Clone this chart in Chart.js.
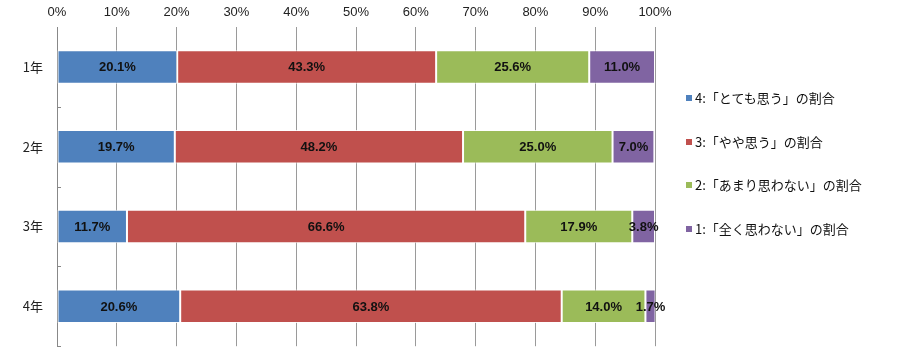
<!DOCTYPE html>
<html>
<head>
<meta charset="utf-8">
<script src="https://cdn.jsdelivr.net/npm/chart.js@4"></script>
<style>
  html, body { margin: 0; padding: 0; background: #fff; overflow: hidden; }
  #wrap { position: relative; width: 900px; height: 354px; overflow: hidden; }
  canvas { display: block; }
  #legend { position: absolute; left: 686px; top: 88px; margin: 0; padding: 0; list-style: none;
    font-family: "Noto Sans CJK JP", "Liberation Sans", sans-serif; font-size: 13px; color: #111; }
  #legend li { height: 20px; line-height: 20px; margin-bottom: 23.5px; white-space: nowrap; }
  #legend span { display: inline-block; width: 6px; height: 6px; margin-right: 3px; vertical-align: 2px; }
</style>
</head>
<body>
<div id="wrap">
  <canvas id="chart" width="900" height="368"></canvas>
  <ul id="legend"></ul>
</div>
<script>
"use strict";

// ── data ──────────────────────────────────────────────────────────────────────
const grades = ["1年", "2年", "3年", "4年"];
const seriesNames = [
  "4:「とても思う」の割合",
  "3:「やや思う」の割合",
  "2:「あまり思わない」の割合",
  "1:「全く思わない」の割合",
];
const verySo   = [20.1, 19.7, 11.7, 20.6];
const somewhat = [43.3, 48.2, 66.6, 63.8];
const notMuch  = [25.6, 25.0, 17.9, 14.0];
const notAtAll = [11.0, 7.0, 3.8, 1.7];
const colors = ["#4F81BD", "#C0504D", "#9BBB59", "#8064A2"];

// ── value labels drawn at each segment's centre ───────────────────────────────
const centreLabels = {
  id: "centreLabels",
  afterDatasetsDraw(chart) {
    const ctx = chart.ctx;
    ctx.save();
    ctx.font = "bold 13px 'Liberation Sans Narrow', 'Liberation Sans', sans-serif";
    ctx.fillStyle = "#111";
    ctx.textAlign = "center";
    ctx.textBaseline = "middle";
    chart.data.datasets.forEach((ds, i) => {
      chart.getDatasetMeta(i).data.forEach((bar, j) => {
        const x = (bar.x + bar.base) / 2;
        ctx.fillText(ds.data[j].toFixed(1) + "%", x, bar.y + 1);
      });
    });
    ctx.restore();
  },
};

// small inside ticks on the category axis between rows
const rowTicks = {
  id: "rowTicks",
  afterDraw(chart) {
    const { ctx, chartArea: a } = chart;
    const step = (a.bottom - a.top) / grades.length;
    ctx.save();
    ctx.strokeStyle = "#888";
    ctx.lineWidth = 1;
    ctx.beginPath();
    for (let i = 1; i <= grades.length; i++) {
      const y = Math.round(a.top + step * i) + 0.5;
      ctx.moveTo(a.left, y);
      ctx.lineTo(a.left + 4, y);
    }
    ctx.stroke();
    ctx.restore();
  },
};

const datasets = [verySo, somewhat, notMuch, notAtAll].map((d, i) => ({
  label: seriesNames[i],
  data: d,
  backgroundColor: colors[i],
  borderColor: "rgba(255,255,255,0.85)",
  borderWidth: 1,
  borderSkipped: false,
  categoryPercentage: 1,
  barPercentage: 0.42,
}));

const chart = new Chart(document.getElementById("chart"), {
  type: "bar",
  data: { labels: grades, datasets },
  plugins: [centreLabels, rowTicks],
  options: {
    indexAxis: "y",
    responsive: false,
    animation: false,
    layout: { padding: { left: 0, right: 245, top: 0, bottom: 9 } },
    plugins: { legend: { display: false }, tooltip: { enabled: false } },
    scales: {
      x: {
        position: "top",
        stacked: true,
        min: 0, max: 100,
        afterFit: s => { s.height = 27; },
        ticks: {
          stepSize: 10, padding: 7, color: "#222",
          font: { family: "'Liberation Sans Narrow', 'Liberation Sans', sans-serif", size: 13 },
          callback: v => v + "%",
        },
        grid: { color: "#9a9a9a", drawTicks: false },
        border: { display: false },
      },
      y: {
        stacked: true,
        afterFit: s => { s.width = 57; },
        ticks: {
          padding: 14, color: "#222",
          font: { family: "'Noto Sans CJK JP', sans-serif", size: 13 },
        },
        grid: { display: false, drawTicks: false },
        border: { display: true, color: "#888" },
      },
    },
  },
});

// ── legend ────────────────────────────────────────────────────────────────────
document.getElementById("legend").innerHTML = seriesNames
  .map((n, i) => `<li><span style="background:${colors[i]}"></span>${n}</li>`)
  .join("");
</script>
</body>
</html>
